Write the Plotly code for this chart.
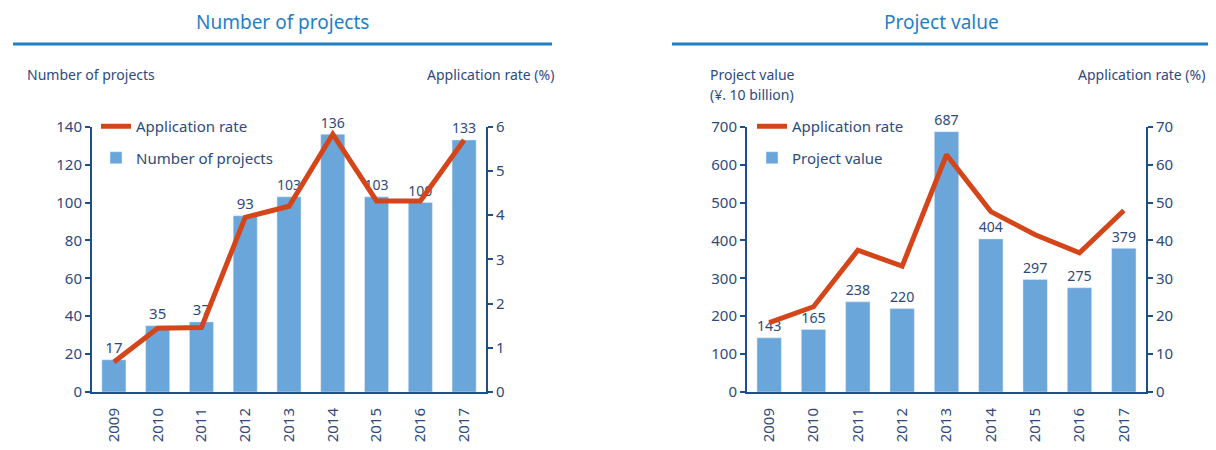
import plotly.graph_objects as go

years = ["2009", "2010", "2011", "2012", "2013", "2014", "2015", "2016", "2017"]
num_projects = [17, 35, 37, 93, 103, 136, 103, 100, 133]
rate_projects = [0.68, 1.44, 1.46, 3.95, 4.2, 5.83, 4.32, 4.32, 5.7]
project_value = [143, 165, 238, 220, 687, 404, 297, 275, 379]
rate_value = [18.3, 22.5, 37.4, 33.2, 62.6, 47.6, 41.5, 36.7, 47.9]

BAR = "#6aa6da"
LINE = "#d4461a"
AXIS = "#1d4f8a"
TXT = "#2e4a7d"
TITLE = "#1f80c6"
FONT = "Noto Sans"

# la page ajoute 8 px de marge : figure 1200x434
W, H = 1200, 434


def px(x):
    return (x - 8) / W


def py(y):
    return 1 - (y - 8) / H


fig = go.Figure()

# panneau gauche
fig.add_trace(go.Bar(
    x=years, y=num_projects, name="Number of projects", marker_color=BAR,
    text=num_projects, textposition="outside", textfont=dict(color=TXT, size=15),
    cliponaxis=False, xaxis="x", yaxis="y", legend="legend", legendrank=2, legendgroup="b1",
))
fig.add_trace(go.Scatter(
    x=years, y=rate_projects, name="Application rate", mode="lines",
    line=dict(color=LINE, width=5), xaxis="x", yaxis="y2", legend="legend", legendrank=1,
    legendgroup="l1",
))

# panneau droit
fig.add_trace(go.Bar(
    x=years, y=project_value, name="Project value", marker_color=BAR,
    text=project_value, textposition="outside", textfont=dict(color=TXT, size=15),
    cliponaxis=False, xaxis="x2", yaxis="y3", legend="legend2", legendrank=2, legendgroup="b2",
))
fig.add_trace(go.Scatter(
    x=years, y=rate_value, name="Application rate", mode="lines",
    line=dict(color=LINE, width=5), xaxis="x2", yaxis="y4", legend="legend2", legendrank=1,
    legendgroup="l2",
))

ydom = [py(392), py(126.7)]
tickf = dict(color=TXT, size=15, family=FONT)
yax = dict(showgrid=False, zeroline=False, showline=True, linecolor=AXIS, linewidth=2,
           ticks="outside", ticklen=5, tickwidth=2, tickcolor=AXIS, tickfont=tickf,
           automargin=False)
xax = dict(showgrid=False, showline=True, linecolor=AXIS, linewidth=2, ticks="",
           tickangle=-90, tickfont=tickf, ticklabelstandoff=8, automargin=False)

fig.update_layout(
    width=W, height=H,
    margin=dict(l=0, r=0, t=0, b=0),
    paper_bgcolor="white", plot_bgcolor="white",
    font=dict(family=FONT, color=TXT),
    bargap=0.45,
    xaxis=dict(domain=[px(92), px(486)], anchor="y", **xax),
    yaxis=dict(domain=ydom, range=[0, 140], dtick=20, anchor="x", **yax),
    yaxis2=dict(range=[0, 6], dtick=1, overlaying="y", side="right", anchor="x", **yax),
    xaxis2=dict(domain=[px(747), px(1146)], anchor="y3", **xax),
    yaxis3=dict(domain=ydom, range=[0, 700], dtick=100, anchor="x2", **yax),
    yaxis4=dict(range=[0, 70], dtick=10, overlaying="y3", side="right", anchor="x2", **yax),
    legend=dict(x=px(96), y=py(110), xanchor="left", yanchor="top",
                bgcolor="rgba(0,0,0,0)", font=dict(size=15, color=TXT), tracegroupgap=9),
    legend2=dict(x=px(752), y=py(110), xanchor="left", yanchor="top",
                 bgcolor="rgba(0,0,0,0)", font=dict(size=15, color=TXT), tracegroupgap=9),
)

# titres et lignes
ttl = dict(xref="paper", yref="paper", showarrow=False, xanchor="center", yanchor="middle",
           font=dict(size=19, color=TITLE))
fig.add_annotation(text="Number of projects", x=px(282), y=py(22), **ttl)
fig.add_annotation(text="Project value", x=px(941), y=py(22), **ttl)
fig.add_shape(type="line", xref="paper", yref="paper", x0=px(13), x1=px(552),
              y0=py(44), y1=py(44), line=dict(color=TITLE, width=3))
fig.add_shape(type="line", xref="paper", yref="paper", x0=px(672), x1=1,
              y0=py(44), y1=py(44), line=dict(color=TITLE, width=3))

# titres des axes
lab = dict(xref="paper", yref="paper", showarrow=False, yanchor="middle",
           font=dict(size=14, color=TXT))
fig.add_annotation(text="Number of projects", x=px(25), y=py(74), xanchor="left", **lab)
fig.add_annotation(text="Application rate (%)", x=px(556), y=py(74), xanchor="right", **lab)
fig.add_annotation(text="Project value", x=px(708), y=py(74), xanchor="left", **lab)
fig.add_annotation(text="(¥. 10 billion)", x=px(708), y=py(95), xanchor="left", **lab)
fig.add_annotation(text="Application rate (%)", x=px(1207), y=py(74), xanchor="right", **lab)

fig.write_html("out.html")
